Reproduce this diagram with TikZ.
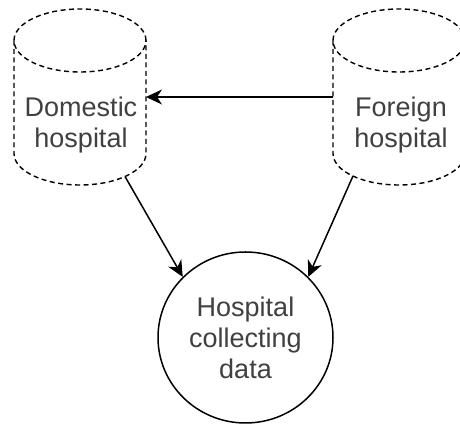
\documentclass[tikz,border=0pt]{standalone}
\usepackage{fontspec}
\setmainfont{Liberation Sans}
\usetikzlibrary{shapes.geometric,arrows.meta,calc}
\definecolor{txtgray}{RGB}{64,64,64}
\begin{document}
\begin{tikzpicture}[x=1pt,y=1pt,
  cylbox/.style={draw=none, minimum width=132pt, minimum height=176pt, inner sep=0pt, outer sep=0pt},
  lbl/.style={align=center, font=\fontsize{27}{31}\selectfont, text=txtgray, inner sep=0pt},
  cylline/.style={line width=1.4pt, dash pattern=on 5pt off 3.5pt},
  conn/.style={line width=1.5pt, -{Stealth[length=16pt,width=15pt,inset=5pt]}},
  hub/.style={draw, ellipse, line width=1.5pt, minimum width=175pt, minimum height=171pt, inner sep=0pt},
]
\useasboundingbox (0,0) rectangle (460,427);
% cylinder frames (invisible, used for connectors)
\node[cylbox] (dom) at (80,330) {};
\node[cylbox] (for) at (399,330) {};
% domestic cylinder
\draw[cylline] (80,386.5) ellipse [x radius=66, y radius=31.5];
\draw[cylline] (14,386.5) -- (14,273.5) arc[start angle=180,end angle=360,x radius=66,y radius=31.5] -- (146,386.5);
% foreign cylinder
\draw[cylline] (399,386.5) ellipse [x radius=66, y radius=31.5];
\draw[cylline] (333,386.5) -- (333,273.5) arc[start angle=180,end angle=360,x radius=66,y radius=31.5] -- (465,386.5);
% labels
\node[lbl] (domt) at (81,302) {Domestic\\hospital};
\node[lbl] (fort) at (401,302) {Foreign\\hospital};
\node[hub, lbl] (circ) at (245.5,89.5) {Hospital\\collecting\\data};
% connectors
\draw[conn] (for.west) -- (dom.east);
\draw[conn] ($(dom.south)+(45,8.5)$) -- (circ.136);
\draw[conn] ($(for.south)+(-46,9)$) -- (circ.44);
\end{tikzpicture}
\end{document}
